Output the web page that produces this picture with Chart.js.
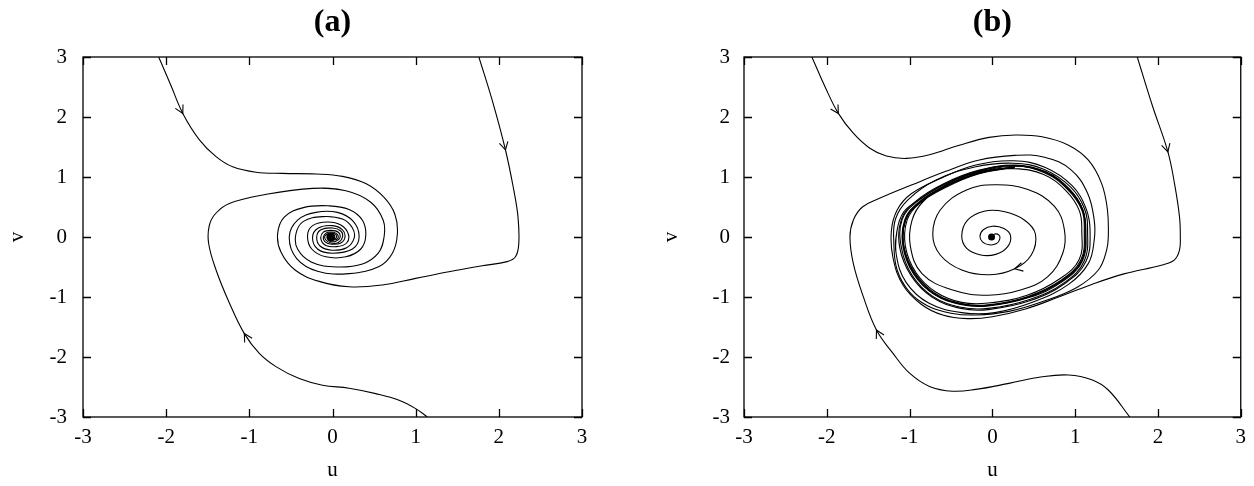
<!DOCTYPE html>
<html><head><meta charset="utf-8">
<script src="https://cdn.jsdelivr.net/npm/chart.js@4.4.1/dist/chart.umd.min.js"></script>
<style>
html,body{margin:0;padding:0;background:#fff;}
#wrap{position:relative;width:1254px;height:486px;background:#fff;}
canvas{position:absolute;top:0;}
</style></head><body>
<div id="wrap"><canvas id="ca" width="627" height="486" style="left:0"></canvas><canvas id="cb" width="627" height="486" style="left:627px"></canvas></div>
<script>
const tickValues = [-3,-2,-1,0,1,2,3];
const tickLabels = ['-3','-2','-1','0','1','2','3'];
const panelTitles = ['(a)','(b)'];
const xTitle = 'u';
const yTitle = 'v';

// ---------- panel (a) ----------
const a_path1 = [[-2.09,3.0],[-1.95,2.55],[-1.80,2.06],[-1.60,1.62],[-1.40,1.34],[-1.20,1.17],[-0.92,1.08],[-0.60,1.06],[-0.20,1.05],[0.12,1.01],[0.40,0.89],[0.62,0.66],[0.75,0.38],[0.78,0.05],[0.72,-0.27],[0.56,-0.49],[0.20,-0.61],[-0.18,-0.57],[-0.43,-0.36],[-0.52,0.0],[-0.42,0.28],[-0.20,0.41],[0.06,0.41],[0.25,0.26],[0.32,0.0],[0.24,-0.20],[0.0,-0.27],[-0.18,-0.20],[-0.24,0.0],[-0.17,0.15],[0.0,0.19],[0.12,0.12],[0.15,0.0],[0.10,-0.10],[-0.01,-0.12],[-0.09,-0.08],[-0.11,0.0],[-0.07,0.07],[0.01,0.08],[0.06,0.04],[0.06,-0.03],[0.0,-0.05],[-0.04,-0.02],[-0.02,0.02]];
const a_path2 = [[1.76,3.0],[1.92,2.28],[2.08,1.45],[2.18,0.78],[2.23,0.34],[2.24,-0.11],[2.20,-0.33],[2.10,-0.41],[1.80,-0.48],[1.40,-0.58],[1.00,-0.69],[0.60,-0.80],[0.20,-0.83],[-0.16,-0.74],[-0.45,-0.55],[-0.62,-0.25],[-0.66,0.05],[-0.58,0.33],[-0.35,0.49],[-0.05,0.52],[0.20,0.46],[0.36,0.28],[0.40,0.02],[0.34,-0.20],[0.16,-0.33],[-0.08,-0.33],[-0.25,-0.20],[-0.30,0.02],[-0.24,0.19],[-0.06,0.25],[0.10,0.20],[0.19,0.05],[0.17,-0.10],[0.05,-0.16],[-0.08,-0.14],[-0.14,-0.03],[-0.11,0.08],[-0.02,0.11],[0.07,0.08],[0.09,-0.01],[0.04,-0.07],[-0.03,-0.07],[-0.06,-0.01],[-0.03,0.03]];
const a_path3 = [[1.14,-3.0],[1.0,-2.86],[0.80,-2.72],[0.52,-2.61],[0.20,-2.52],[-0.12,-2.47],[-0.40,-2.36],[-0.68,-2.16],[-0.88,-1.94],[-1.06,-1.61],[-1.24,-1.10],[-1.40,-0.55],[-1.49,-0.10],[-1.48,0.20],[-1.40,0.40],[-1.24,0.56],[-0.84,0.70],[-0.24,0.81],[0.16,0.77],[0.46,0.58],[0.61,0.28],[0.62,0.0],[0.55,-0.27],[0.36,-0.45],[0.05,-0.50],[-0.25,-0.42],[-0.42,-0.20],[-0.44,0.05],[-0.35,0.26],[-0.12,0.34],[0.12,0.30],[0.24,0.15],[0.26,-0.02],[0.17,-0.18],[-0.01,-0.22],[-0.15,-0.15],[-0.19,0.0],[-0.14,0.12],[0.0,0.15],[0.10,0.10],[0.12,0.0],[0.07,-0.09],[-0.02,-0.10],[-0.08,-0.05],[-0.09,0.02],[-0.04,0.06],[0.02,0.06],[0.05,0.01],[0.02,-0.04],[-0.02,-0.03]];
const a_center = [-0.02,0.0];
const a_arrows = [[-1.80,2.06,0.35,-0.93],[2.08,1.45,0.26,-1.5],[-1.06,-1.61,-0.36,0.84]];

// ---------- panel (b) ----------
const b_path1 = [[-2.18,3.0],[-2.02,2.5],[-1.86,2.06],[-1.68,1.73],[-1.48,1.48],[-1.28,1.35],[-1.04,1.31],[-0.76,1.37],[-0.40,1.53],[-0.04,1.66],[0.28,1.70],[0.60,1.67],[0.92,1.53],[1.16,1.28],[1.32,0.89],[1.39,0.45],[1.40,0.0],[1.38,-0.22],[1.28,-0.55],[1.02,-0.84],[0.60,-1.08],[0.20,-1.24],[-0.20,-1.30],[-0.50,-1.27],[-0.78,-1.15],[-1.0,-0.92],[-1.15,-0.55],[-1.19,-0.10],[-1.17,0.30],[-1.02,0.62],[-0.68,0.95],[-0.20,1.17],[0.25,1.23],[0.62,1.13],[0.94,0.84],[1.11,0.48],[1.15,0.10],[1.11,-0.40],[0.87,-0.76],[0.45,-1.04],[-0.05,-1.19],[-0.38,-1.17],[-0.72,-0.99],[-0.97,-0.64],[-1.10,-0.17],[-1.09,0.29],[-0.92,0.58],[-0.59,0.87],[-0.17,1.10],[0.27,1.20],[0.64,1.09],[0.93,0.80],[1.09,0.46],[1.13,0.10],[1.09,-0.39],[0.85,-0.74],[0.44,-1.01],[-0.05,-1.15],[-0.37,-1.13],[-0.70,-0.96],[-0.95,-0.62],[-1.08,-0.16],[-1.06,0.28],[-0.90,0.57],[-0.58,0.85],[-0.17,1.07],[0.27,1.18],[0.63,1.07],[0.91,0.79],[1.08,0.45],[1.11,0.10],[1.07,-0.38],[0.83,-0.72],[0.43,-0.99],[-0.05,-1.13],[-0.37,-1.11],[-0.69,-0.94],[-0.93,-0.61],[-1.07,-0.16],[-1.05,0.28],[-0.89,0.56],[-0.57,0.84],[-0.17,1.06],[0.27,1.17]];
const b_path2 = [[1.75,3.0],[1.93,2.2],[2.12,1.42],[2.20,0.89],[2.26,0.34],[2.27,0.0],[2.26,-0.22],[2.20,-0.38],[2.04,-0.47],[1.60,-0.61],[1.20,-0.79],[0.80,-1.0],[0.40,-1.20],[0.0,-1.33],[-0.30,-1.36],[-0.60,-1.30],[-0.86,-1.12],[-1.08,-0.80],[-1.20,-0.35],[-1.22,0.10],[-1.15,0.45],[-0.98,0.72],[-0.62,0.98],[-0.20,1.20],[0.25,1.27],[0.64,1.16],[0.96,0.86],[1.13,0.48],[1.18,0.10],[1.13,-0.41],[0.88,-0.77],[0.46,-1.06],[-0.05,-1.21],[-0.38,-1.19],[-0.73,-1.0],[-0.98,-0.65],[-1.12,-0.17],[-1.10,0.29],[-0.93,0.59],[-0.60,0.88],[-0.17,1.11],[0.27,1.19],[0.64,1.08],[0.92,0.80],[1.09,0.46],[1.12,0.10],[1.08,-0.39],[0.84,-0.73],[0.44,-1.0],[-0.05,-1.14],[-0.37,-1.12],[-0.70,-0.95],[-0.94,-0.62],[-1.07,-0.16],[-1.05,0.28],[-0.89,0.56],[-0.57,0.84],[-0.17,1.06],[0.27,1.17]];
const b_path3 = [[1.66,-3.0],[1.40,-2.55],[1.20,-2.38],[0.92,-2.30],[0.60,-2.33],[0.20,-2.44],[-0.20,-2.54],[-0.48,-2.57],[-0.76,-2.49],[-1.0,-2.27],[-1.20,-1.94],[-1.40,-1.55],[-1.56,-0.99],[-1.68,-0.44],[-1.72,0.0],[-1.68,0.28],[-1.57,0.50],[-1.37,0.64],[-0.97,0.87],[-0.57,1.09],[-0.17,1.28],[0.27,1.36],[0.63,1.33],[0.95,1.12],[1.15,0.73],[1.23,0.28],[1.23,-0.05],[1.16,-0.44],[0.92,-0.79],[0.50,-1.08],[0.03,-1.26],[-0.37,-1.26],[-0.77,-1.10],[-1.04,-0.76],[-1.16,-0.30],[-1.15,0.12],[-1.07,0.42],[-0.91,0.60],[-0.58,0.88],[-0.17,1.09],[0.27,1.19],[0.64,1.08],[0.92,0.80],[1.09,0.46],[1.12,0.10],[1.08,-0.39],[0.84,-0.73],[0.44,-1.0],[-0.05,-1.14],[-0.37,-1.12],[-0.70,-0.95],[-0.94,-0.62],[-1.07,-0.16],[-1.05,0.28],[-0.89,0.56],[-0.57,0.84],[-0.17,1.06],[0.27,1.17]];
const b_path4 = [[-0.01,0.0],[0.03,0.05],[0.08,0.03],[0.09,-0.03],[0.05,-0.11],[-0.04,-0.13],[-0.12,-0.08],[-0.15,0.01],[-0.11,0.12],[0.0,0.18],[0.14,0.14],[0.22,0.02],[0.18,-0.17],[0.04,-0.29],[-0.14,-0.30],[-0.31,-0.19],[-0.37,0.02],[-0.30,0.28],[-0.10,0.43],[0.15,0.42],[0.39,0.28],[0.52,0.05],[0.47,-0.30],[0.27,-0.53],[-0.03,-0.63],[-0.37,-0.55],[-0.63,-0.30],[-0.72,0.04],[-0.63,0.45],[-0.32,0.78],[0.03,0.87],[0.43,0.79],[0.75,0.51],[0.87,0.12],[0.85,-0.27],[0.67,-0.66],[0.35,-0.88],[-0.05,-0.97],[-0.49,-0.88],[-0.85,-0.61],[-0.99,-0.16],[-0.97,0.28],[-0.83,0.60],[-0.52,0.90],[-0.12,1.10],[0.27,1.14],[0.62,1.04],[0.89,0.77],[1.05,0.44],[1.08,0.10],[1.05,-0.37],[0.81,-0.70],[0.42,-0.97],[-0.05,-1.10],[-0.37,-1.09],[-0.68,-0.92],[-0.92,-0.60],[-1.05,-0.16],[-1.03,0.28],[-0.88,0.56],[-0.56,0.83],[-0.17,1.05],[0.27,1.16]];
const b_center = [-0.01,0.0];
const b_arrows = [[-1.86,2.06,0.34,-0.77],[2.12,1.42,0.27,-1.31],[-1.40,-1.55,-0.36,0.95],[0.27,-0.53,-0.30,-0.10]];

const SERIF = '"Liberation Serif","DejaVu Serif",serif';

const framePlugin = {
  id: 'frame',
  afterDatasetsDraw(chart, args, opts) {
    const {ctx, chartArea: ca, scales: {x, y}} = chart;
    ctx.save();
    ctx.strokeStyle = '#000';
    ctx.lineWidth = 1.1;
    ctx.beginPath();
    (opts.arrows || []).forEach(([u, v, du, dv]) => {
      const px = x.getPixelForValue(u), py = y.getPixelForValue(v);
      const qx = x.getPixelForValue(u + du), qy = y.getPixelForValue(v + dv);
      const ang = Math.atan2(qy - py, qx - px);
      const len = 9, sp = 0.5;
      ctx.moveTo(px - len * Math.cos(ang - sp), py - len * Math.sin(ang - sp));
      ctx.lineTo(px, py);
      ctx.lineTo(px - len * Math.cos(ang + sp), py - len * Math.sin(ang + sp));
    });
    ctx.stroke();
    ctx.lineWidth = 1.3;
    ctx.strokeRect(ca.left, ca.top, ca.right - ca.left, ca.bottom - ca.top);
    const L = 8;
    ctx.beginPath();
    x.ticks.forEach(t => {
      const p = Math.round(x.getPixelForValue(t.value)) + 0.5;
      ctx.moveTo(p, ca.bottom); ctx.lineTo(p, ca.bottom - L);
      ctx.moveTo(p, ca.top); ctx.lineTo(p, ca.top + L);
    });
    y.ticks.forEach(t => {
      const p = Math.round(y.getPixelForValue(t.value)) + 0.5;
      ctx.moveTo(ca.left, p); ctx.lineTo(ca.left + L, p);
      ctx.moveTo(ca.right, p); ctx.lineTo(ca.right - L, p);
    });
    ctx.stroke();
    ctx.fillStyle = '#000';
    ctx.font = 'bold 32px ' + SERIF;
    ctx.textAlign = 'center';
    ctx.textBaseline = 'middle';
    ctx.fillText(opts.text, (ca.left + ca.right) / 2, 23);
    ctx.restore();
  }
};

function makeChart(id, paths, center, arrows, title, cfg) {
  const datasets = paths.map(p => ({
    data: p.map(([u, v]) => ({x: u, y: v})),
    showLine: true, borderColor: '#000', borderWidth: 1.1, pointRadius: 0,
    tension: 0.4, fill: false
  }));
  datasets.push({data: [{x: center[0], y: center[1]}], showLine: false,
    pointRadius: cfg.dot, pointBackgroundColor: '#000', pointBorderColor: '#000', pointBorderWidth: 0});
  const tickFont = {family: SERIF, size: 21};
  const axis = (t) => ({
    type: 'linear', min: -3, max: 3,
    afterBuildTicks: s => { s.ticks = tickValues.map(v => ({value: v})); },
    ticks: {callback: v => tickLabels[tickValues.indexOf(v)], font: tickFont, color: '#000',
      maxRotation: 0, autoSkip: false},
    grid: {display: false, drawTicks: false},
    border: {display: false},
    title: {display: true, text: t, font: tickFont, color: '#000'}
  });
  const xs = axis(xTitle);
  xs.ticks.padding = 8;
  xs.title.padding = {top: 0, bottom: 3};
  xs.afterFit = s => { s.height = 69; };
  const ys = axis(yTitle);
  ys.ticks.padding = cfg.ypad;
  ys.title.padding = {top: cfg.ytp, bottom: 0};
  ys.afterFit = s => { s.width = cfg.yw; };
  return new Chart(document.getElementById(id), {
    type: 'scatter',
    data: {datasets},
    options: {
      responsive: false, animation: false, devicePixelRatio: 1,
      layout: {padding: {top: 57, right: cfg.right, bottom: 0, left: 0}},
      plugins: {legend: {display: false}, tooltip: {enabled: false}, title: {display: false},
        frame: {text: title, arrows}},
      scales: {x: xs, y: ys}
    },
    plugins: [framePlugin]
  });
}

makeChart('ca', [a_path1, a_path2, a_path3], a_center, a_arrows, panelTitles[0],
  {right: 45, yw: 83, ypad: 16, ytp: 5, dot: 4.5});
makeChart('cb', [b_path1, b_path2, b_path3, b_path4], b_center, b_arrows, panelTitles[1],
  {right: 10, yw: 117, ypad: 14, ytp: 32, dot: 3.5});
</script>
</body></html>
